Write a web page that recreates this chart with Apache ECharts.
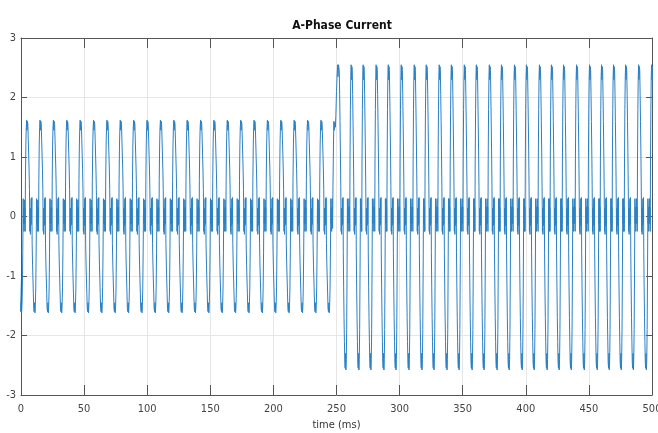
<!DOCTYPE html>
<html>
<head>
<meta charset="utf-8">
<script src="https://cdn.jsdelivr.net/npm/echarts@6/dist/echarts.min.js"></script>
<style>html,body{margin:0;padding:0;background:#fff}#c{width:658px;height:433px}</style>
</head>
<body>
<div id="c"></div>
<script>
// ---- values ----
// times (ms) of the positive peaks in the low-current part (1.6 A)
const lowPeakTimes = [-5.8, 4.8, 15.4, 26.0, 36.6, 47.2, 57.8, 68.4, 79.0, 89.6, 100.2, 110.8,
  121.4, 132.0, 142.6, 153.2, 163.8, 174.4, 185.0, 195.6, 206.2, 216.8, 227.4, 238.0];
// the step cycle (current rises from 1.6 to 2.55 inside one pulse)
const stepPeakTime = 251.6;
// times (ms) of the positive peaks in the high-current part (2.55 A)
const highPeakTimes = [261.9, 271.4, 281.7, 291.3, 301.6, 311.9, 321.4, 331.7, 341.3, 351.6,
  361.1, 371.4, 381.0, 391.3, 400.8, 411.1, 420.6, 430.2, 440.5, 450.8, 460.3, 469.8, 479.4,
  489.7, 500.0];
const lowPeriod = 10.6;
const highPeriod = 9.94;
// one cycle of the waveform, phase relative to the positive peak (fraction of a period)
const cyclePhase = [-0.20, -0.18, -0.16, -0.14,
  -0.12, -0.09, -0.06, -0.03, 0.00, 0.03, 0.06, 0.09, 0.12, 0.15, 0.18,
  0.21, 0.23, 0.25, 0.27, 0.29, 0.31, 0.33, 0.36,
  0.38, 0.41, 0.44, 0.47, 0.50, 0.53, 0.56, 0.59, 0.62, 0.65, 0.68,
  0.71, 0.73, 0.75, 0.77, 0.79];
const lowCycle = [0.28, -0.12, 0.15, -0.25,
  0.60, 1.20, 1.50, 1.62, 1.45, 1.60, 1.55, 1.30, 1.05, 0.80, 0.45,
  -0.25, 0.14, -0.30, 0.12, -0.15, 0.30, -0.12, 0.32,
  -0.45, -0.80, -1.05, -1.30, -1.55, -1.60, -1.45, -1.62, -1.50, -1.20, -0.60,
  0.30, -0.12, 0.15, -0.25, 0.05];
const highCycle = [0.30, -0.12, 0.16, -0.25,
  0.90, 1.80, 2.35, 2.55, 2.30, 2.52, 2.45, 2.05, 1.60, 1.10, 0.50,
  -0.25, 0.14, -0.30, 0.12, -0.15, 0.30, -0.12, 0.32,
  -0.60, -1.20, -1.70, -2.10, -2.45, -2.55, -2.30, -2.58, -2.40, -1.90, -0.90,
  0.30, -0.12, 0.16, -0.25, 0.05];
// rising part of the step cycle: offsets (ms) before its peak and values (A)
const stepOffsets = [-5.0, -4.7, -4.4, -4.0, -3.7, -3.3, -2.9, -2.5, -2.1, -1.6, -1.1, -0.7, -0.4, 0.0];
const stepValues  = [0.30, -0.20, 0.50, 1.20, 1.60, 1.45, 1.58, 1.50, 1.70, 2.10, 2.40, 2.55, 2.35, 2.55];
// axis ticks
const xTicks = {min: 0, max: 500, step: 50};
const yTicks = {min: -3, max: 3, step: 1};

// ---- build series ----
const data = [];
lowPeakTimes.forEach(p => {
  cyclePhase.forEach((ph, j) => data.push([+(p + ph * lowPeriod).toFixed(3), lowCycle[j]]));
});
stepOffsets.forEach((o, j) => data.push([+(stepPeakTime + o).toFixed(3), stepValues[j]]));
cyclePhase.forEach((ph, j) => { if (ph >= 0.06) data.push([+(stepPeakTime + ph * highPeriod).toFixed(3), highCycle[j]]); });
highPeakTimes.forEach(p => {
  cyclePhase.forEach((ph, j) => data.push([+(p + ph * highPeriod).toFixed(3), highCycle[j]]));
});

const FONT = "'Liberation Sans Narrow', 'DejaVu Sans Condensed', 'Liberation Sans', Arial, sans-serif";
const AX = '#555555';
const chart = echarts.init(document.getElementById('c'), null, {renderer: 'canvas'});
chart.setOption({
  animation: false,
  backgroundColor: '#ffffff',
  title: {
    text: 'A-Phase Current', left: 337, top: 15, textAlign: 'center',
    textStyle: {fontFamily: FONT, fontSize: 12, fontWeight: 'bold', color: '#111'}
  },
  grid: {left: 21, right: 6, top: 38, bottom: 38, containLabel: false, outerBoundsMode: 'none'},
  xAxis: [{
    type: 'value', min: xTicks.min, max: xTicks.max, interval: xTicks.step, position: 'bottom',
    axisLine: {show: true, onZero: false, lineStyle: {color: AX, width: 1}},
    axisTick: {show: true, inside: true, length: 10, lineStyle: {color: AX}},
    axisLabel: {color: '#444', fontSize: 11, margin: 9, fontFamily: FONT},
    splitLine: {show: true, lineStyle: {color: '#e6e6e6', width: 1}},
    name: 'time (ms)', nameLocation: 'middle', nameGap: 23,
    nameTextStyle: {color: '#333', fontSize: 11, fontFamily: FONT}
  }, {
    type: 'value', min: xTicks.min, max: xTicks.max, interval: xTicks.step, position: 'top',
    axisLine: {show: true, onZero: false, lineStyle: {color: AX, width: 1}},
    axisTick: {show: true, inside: true, length: 10, lineStyle: {color: AX}},
    axisLabel: {show: false}, splitLine: {show: false}
  }],
  yAxis: [{
    type: 'value', min: yTicks.min, max: yTicks.max, interval: yTicks.step, position: 'left',
    axisLine: {show: true, onZero: false, lineStyle: {color: AX, width: 1}},
    axisTick: {show: true, inside: true, length: 6, lineStyle: {color: AX}},
    axisLabel: {color: '#444', fontSize: 11, margin: 5, fontFamily: FONT},
    splitLine: {show: true, lineStyle: {color: '#e6e6e6', width: 1}}
  }, {
    type: 'value', min: yTicks.min, max: yTicks.max, interval: yTicks.step, position: 'right',
    axisLine: {show: true, onZero: false, lineStyle: {color: AX, width: 1}},
    axisTick: {show: true, inside: true, length: 6, lineStyle: {color: AX}},
    axisLabel: {show: false}, splitLine: {show: false}
  }],
  series: [{
    type: 'line', data: data, xAxisIndex: 0, yAxisIndex: 0,
    showSymbol: false, symbol: 'none', clip: true,
    lineStyle: {color: '#2b80c5', width: 1}, itemStyle: {color: '#2b80c5'}
  }]
});
</script>
</body>
</html>
